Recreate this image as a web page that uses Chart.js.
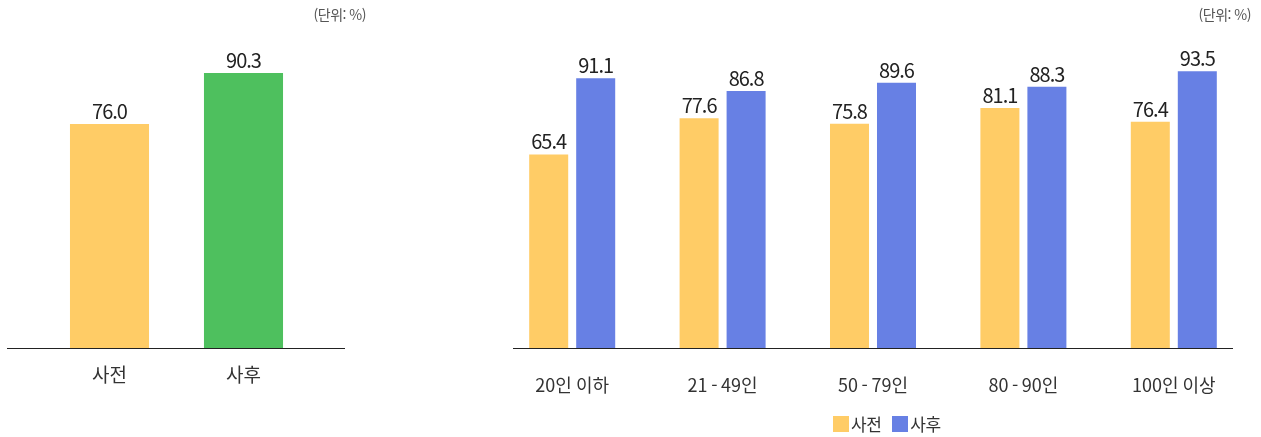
<!DOCTYPE html>
<html lang="ko">
<head>
<meta charset="utf-8">
<script src="https://cdn.jsdelivr.net/npm/chart.js@4.4.1/dist/chart.umd.min.js"></script>
<style>
  html, body { margin: 0; padding: 0; background: #fff; }
  body { width: 1261px; height: 437px; position: relative; overflow: hidden;
         font-family: 'Noto Sans CJK KR', 'Noto Sans', sans-serif; color: #333; }
  .box { position: absolute; top: 0; height: 437px; }
  .unit { position: absolute; top: 4px; font-size: 14px; color: #555; letter-spacing: -0.5px; }
  .legend { position: absolute; top: 411px; left: 833px; font-size: 17px; color: #333; display: flex; align-items: center; }
  .legend i { display: inline-block; width: 16px; height: 16px; margin-right: 2px; }
  .legend span { margin-right: 11px; letter-spacing: -0.5px; }
</style>
</head>
<body>
<div class="box" style="left:0;width:360px"><canvas id="left-chart"></canvas></div>
<div class="box" style="left:480px;width:781px"><canvas id="right-chart"></canvas></div>
<div class="unit" style="right:895px">(단위: %)</div>
<div class="unit" style="right:10px">(단위: %)</div>
<div class="legend">
  <i style="background:#FFCC66"></i><span>사전</span>
  <i style="background:#6780E4"></i><span>사후</span>
</div>
<script>
// ── Data ──────────────────────────────────────────────────────
const TOTAL_LABELS  = ['사전', '사후'];
const TOTAL_VALUES  = [76.0, 90.3];
const SIZE_LABELS   = ['20인 이하', '21\u2009-\u200949인', '50\u2009-\u200979인', '80\u2009-\u200990인', '100인 이상'];
const BEFORE_VALUES = [65.4, 77.6, 75.8, 81.1, 76.4];
const AFTER_VALUES  = [91.1, 86.8, 89.6, 88.3, 93.5];

const YELLOW = '#FFCC66';
const GREEN  = '#4EC05E';
const BLUE   = '#6780E4';
const FONT   = "'Noto Sans CJK KR', 'Noto Sans', sans-serif";

// value label above each bar + baseline rule
function barDecor(lineFrom, lineTo) {
    return {
        id: 'barDecor',
        afterDatasetsDraw(chart) {
            const ctx = chart.ctx;
            ctx.save();
            ctx.font = `20px ${FONT}`;
            ctx.fillStyle = '#222';
            ctx.textAlign = 'center';
            ctx.textBaseline = 'alphabetic';
            if ('letterSpacing' in ctx) ctx.letterSpacing = '-1px';
            chart.data.datasets.forEach((ds, i) => {
                chart.getDatasetMeta(i).data.forEach((bar, j) => {
                    ctx.fillText(ds.data[j].toFixed(1), bar.x, bar.y - 5);
                });
            });
            const y = chart.chartArea.bottom + 0.5;
            ctx.strokeStyle = '#222';
            ctx.lineWidth = 1;
            ctx.beginPath();
            ctx.moveTo(lineFrom, y);
            ctx.lineTo(lineTo, y);
            ctx.stroke();
            ctx.restore();
        }
    };
}

function baseOpts(pad, yMin, tickPad, tickSize) {
    return {
        responsive: true, maintainAspectRatio: false, animation: false,
        layout: { padding: pad },
        plugins: { legend: { display: false }, tooltip: { enabled: false } },
        scales: {
            x: {
                grid: { display: false }, border: { display: false },
                ticks: { color: '#333', padding: tickPad, font: { family: FONT, size: tickSize } },
                afterFit(scale) { scale.height = 89; },
            },
            y: { display: false, min: yMin, max: 100 },
        },
    };
}

new Chart(document.getElementById('left-chart'), {
    type: 'bar',
    data: {
        labels: TOTAL_LABELS,
        datasets: [{
            data: TOTAL_VALUES,
            backgroundColor: [YELLOW, GREEN],
            categoryPercentage: 1, barPercentage: 0.59,
        }],
    },
    options: baseOpts({ left: 42.5, right: 49.5, top: 38.5, bottom: 0 }, 13.2, 7, 19),
    plugins: [barDecor(7, 345)],
});

new Chart(document.getElementById('right-chart'), {
    type: 'bar',
    data: {
        labels: SIZE_LABELS,
        datasets: [
            { label: '사전', data: BEFORE_VALUES, backgroundColor: YELLOW, categoryPercentage: 0.625, barPercentage: 0.83 },
            { label: '사후', data: AFTER_VALUES,  backgroundColor: BLUE,   categoryPercentage: 0.625, barPercentage: 0.83 },
        ],
    },
    options: baseOpts({ left: 17, right: 12, top: 52, bottom: 0 }, 0, 18, 18),
    plugins: [barDecor(33, 753)],
});
</script>
</body>
</html>
